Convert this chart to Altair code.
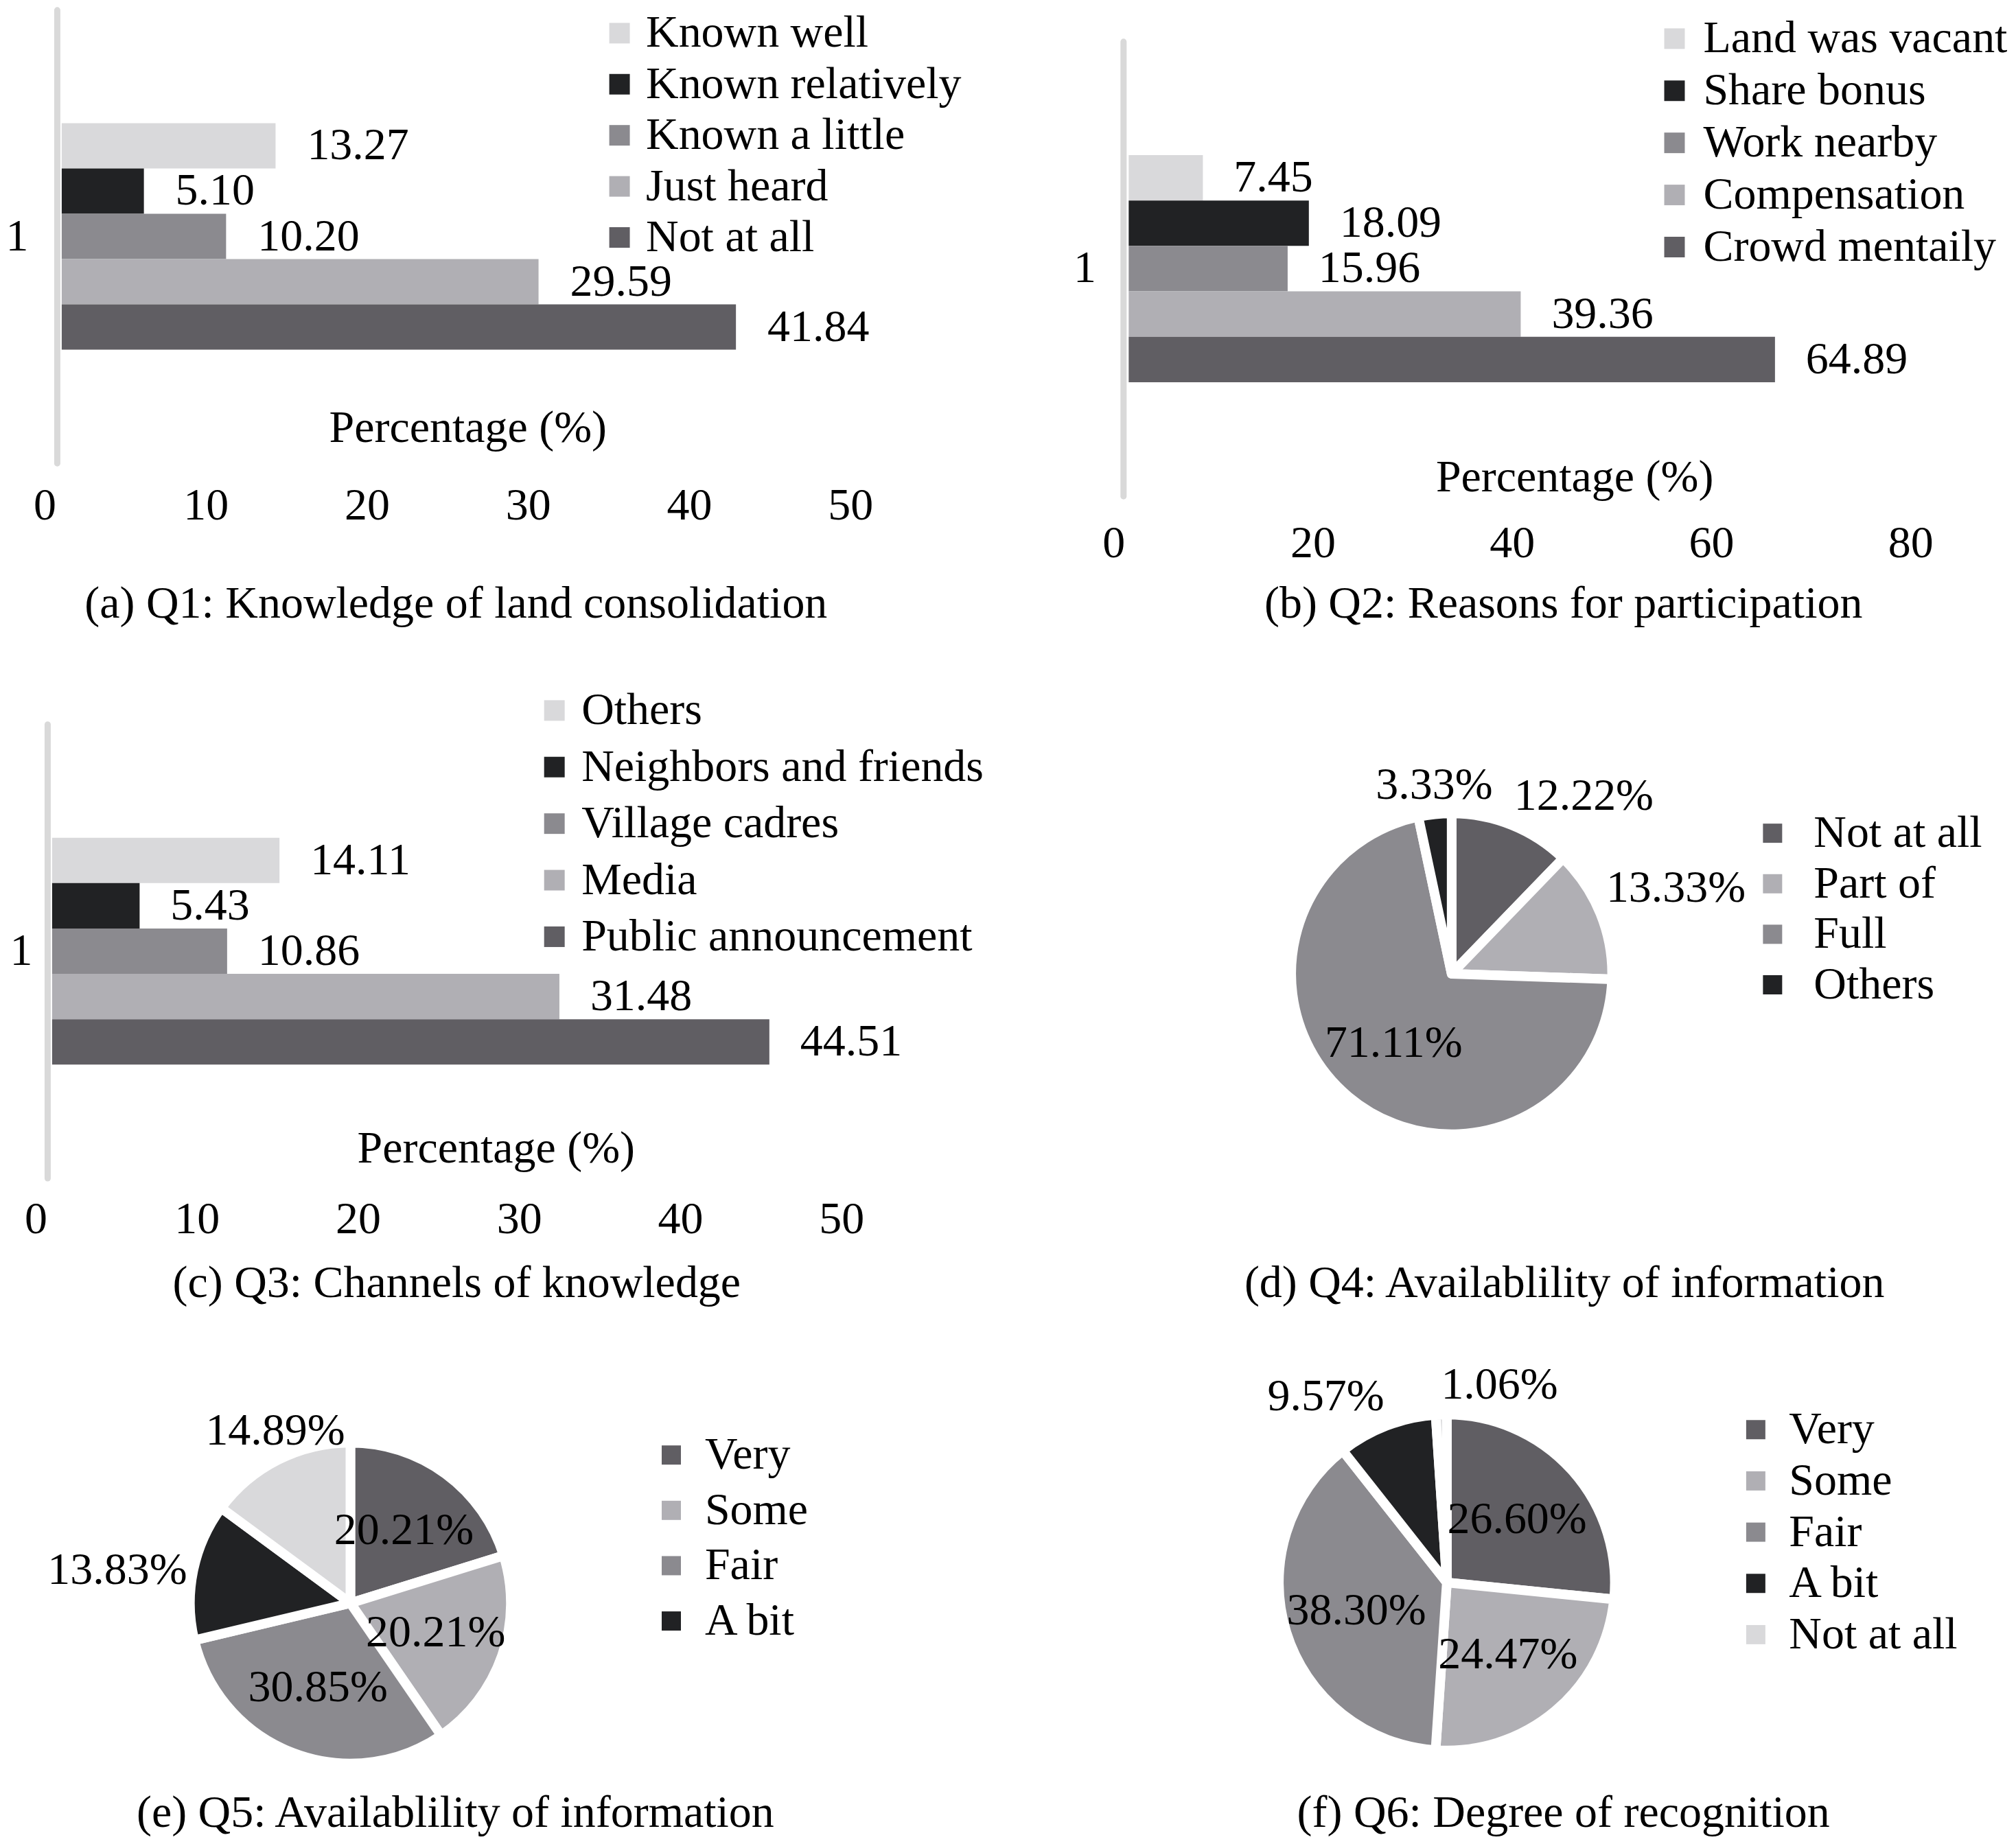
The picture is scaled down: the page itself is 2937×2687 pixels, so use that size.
import altair as alt
import pandas as pd

FONT = "Liberation Serif"
FS = 66

C_LIGHTEST = "#d9d9db"
C_BLACK = "#212224"
C_MID = "#8b8a8f"
C_LIGHT = "#b0afb4"
C_DARK = "#605e63"
AXIS_GRAY = "#d9d9d9"

# ---------------- data ----------------
category = "1"
q1_labels = ["Known well", "Known relatively", "Known a little", "Just heard", "Not at all"]
q1_values = [13.27, 5.10, 10.20, 29.59, 41.84]
q2_labels = ["Land was vacant", "Share bonus", "Work nearby", "Compensation", "Crowd mentaily"]
q2_values = [7.45, 18.09, 15.96, 39.36, 64.89]
q3_labels = ["Others", "Neighbors and friends", "Village cadres", "Media", "Public announcement"]
q3_values = [14.11, 5.43, 10.86, 31.48, 44.51]
bar_colors = [C_LIGHTEST, C_BLACK, C_MID, C_LIGHT, C_DARK]
ticks_50 = [0, 10, 20, 30, 40, 50]
ticks_80 = [0, 20, 40, 60, 80]

q4_labels = ["Not at all", "Part of", "Full", "Others"]
q4_values = [12.22, 13.33, 71.11, 3.33]
q4_colors = [C_DARK, C_LIGHT, C_MID, C_BLACK]
q5_labels = ["Very", "Some", "Fair", "A bit", "Not at all"]
q5_values = [20.21, 20.21, 30.85, 13.83, 14.89]
q5_legend = ["Very", "Some", "Fair", "A bit"]
q6_labels = ["Very", "Some", "Fair", "A bit", "Not at all"]
q6_values = [26.60, 24.47, 38.30, 9.57, 1.06]
five_colors = [C_DARK, C_LIGHT, C_MID, C_BLACK, C_LIGHTEST]

captions = [
    "(a) Q1: Knowledge of land consolidation",
    "(b) Q2: Reasons for participation",
    "(c) Q3: Channels of knowledge",
    "(d) Q4: Availablility of information",
    "(e) Q5: Availablility of information",
    "(f) Q6: Degree of recognition",
]


def caption_title(text, dx, off):
    return alt.TitleParams(text=text, orient="bottom", anchor="middle", frame="group",
                           offset=off, dx=dx, baseline="middle", font=FONT, fontSize=FS,
                           fontWeight="normal", color="black")


def legend(leg_x, leg_y, leg_off, leg_row, size, values=None):
    kw = dict(orient="none", legendX=leg_x, legendY=leg_y, title=None, symbolType="square",
              symbolSize=size, symbolStrokeWidth=0, labelOffset=leg_off, rowPadding=leg_row,
              padding=0, labelLimit=2000)
    if values is not None:
        kw["values"] = values
    return alt.Legend(**kw)


def bar_panel(labels, values, ticks, caption, W, H, xr, yr, axis_x, ylab_pad,
              xlab_pad, xlab_off, title_x, title_y, leg_x, leg_y, leg_off, leg_row,
              dx_lab, cap_dx, cap_off):
    df = pd.DataFrame({"cat": [category] * len(labels), "series": labels, "value": values})
    xsc = alt.Scale(domain=[ticks[0], ticks[-1]], range=xr, nice=False, zero=True)
    ysc = alt.Scale(range=yr, paddingInner=0, paddingOuter=0.5)
    osc = alt.Scale(domain=labels, paddingInner=0, paddingOuter=0)
    base = alt.Chart(df)
    bars = base.mark_bar().encode(
        x=alt.X("value:Q", scale=xsc, axis=alt.Axis(
            values=ticks, title="Percentage (%)", domain=False, ticks=False, tickSize=0,
            grid=False, labelFlush=False, labelOverlap=False, labelPadding=xlab_pad,
            labelOffset=xlab_off, labelBaseline="middle", offset=yr[1] - H,
            titleX=title_x, titleY=title_y, titleBaseline="middle", titleAlign="center",
            titleAngle=0)),
        y=alt.Y("cat:N", scale=ysc, axis=alt.Axis(
            title=None, domainColor=AXIS_GRAY, domainWidth=9, domainCap="round",
            ticks=False, tickSize=0, labelPadding=ylab_pad, offset=-axis_x, grid=False,
            labelAngle=0, labelBaseline="middle")),
        yOffset=alt.YOffset("series:N", scale=osc),
        color=alt.Color("series:N", scale=alt.Scale(domain=labels, range=bar_colors),
                        legend=legend(leg_x, leg_y, leg_off, leg_row, 900)),
    )
    text = base.mark_text(align="left", baseline="middle", dx=dx_lab, fontSize=FS,
                          font=FONT, color="black").encode(
        x=alt.X("value:Q"),
        y=alt.Y("cat:N"),
        yOffset=alt.YOffset("series:N"),
        text=alt.Text("value:Q", format=".2f"),
    )
    return alt.layer(bars, text).properties(width=W, height=H,
                                            title=caption_title(caption, cap_dx, cap_off))


def pie_panel(labels, values, colors, caption, W, H, cx, cy, R, leg_vals, leg_x, leg_y,
              leg_off, leg_row, cap_dx, cap_off):
    df = pd.DataFrame({"idx": list(range(len(labels))), "series": labels, "value": values})
    color = alt.Color("series:N", scale=alt.Scale(domain=labels, range=colors),
                      legend=legend(leg_x, leg_y, leg_off, leg_row, 784, leg_vals))
    arcs = alt.Chart(df).mark_arc(outerRadius=R + 7, stroke="white", strokeWidth=14,
                                  strokeJoin="round").encode(
        theta=alt.Theta("value:Q", stack=True),
        color=color,
        order=alt.Order("idx:Q"),
        x=alt.value(cx), y=alt.value(cy),
    )
    lab = alt.Chart(df).transform_window(
        cum="sum(value)", sort=[alt.SortField("idx", order="ascending")], frame=[None, 0]
    ).transform_joinaggregate(total="sum(value)").transform_calculate(
        mv="datum.cum - datum.value / 2",
        ang="2 * PI * (datum.cum - datum.value / 2) / datum.total",
    ).transform_calculate(
        s="sin(datum.ang)", c="cos(datum.ang)",
    ).transform_calculate(
        r=f"datum.value < 20 ? {R + 16} : {0.58 * R}",
        al="datum.value >= 20 ? 'center' : (datum.value < 2 ? 'left' : (datum.s > 0.3 ? 'left' : ((datum.s < -0.5 || (datum.s < -0.3 && datum.value < 10)) ? 'right' : 'center')))",
        bl="datum.value >= 20 ? 'middle' : (datum.c > 0.3 ? 'bottom' : (datum.c < -0.3 ? 'top' : 'middle'))",
        lab="format(datum.value, '.2f') + '%'",
    ).mark_text(fontSize=FS, font=FONT, color="black",
                align=alt.ExprRef(expr="datum.al"),
                baseline=alt.ExprRef(expr="datum.bl")).encode(
        theta=alt.Theta("mv:Q", stack=None),
        radius=alt.Radius("r:Q", scale=None),
        text=alt.Text("lab:N"),
        x=alt.value(cx), y=alt.value(cy),
    )
    return alt.layer(arcs, lab).properties(width=W, height=H,
                                           title=caption_title(caption, cap_dx, cap_off))


pa = bar_panel(q1_labels, q1_values, ticks_50, captions[0], 1460, 905, [79, 1254], [5, 666],
               72, 42, 62, -25, 671, -51, 859.5, 6, 5.5, 8.5, 46, -76, -33)
pb = bar_panel(q2_labels, q2_values, ticks_80, captions[1], 1461, 905, [175, 1337], [51, 714],
               167, 40, 69, -22, 825, -27, 938, 14, 9, 10, 45, 78.5, -33)
pc = bar_panel(q3_labels, q3_values, ticks_50, captions[2], 1460, 990, [65, 1240], [142, 804],
               58, 22, 60, -24, 712, -43, 764.5, 89, 6.5, 16.5, 45, -75, -32)
pd_ = pie_panel(q4_labels, q4_values, q4_colors, captions[3], 1461, 990, 646, 506, 227,
                q4_labels, 1081, 268, 27, 7.7, 80, -32)
pe = pie_panel(q5_labels, q5_values, five_colors, captions[4], 1460, 776, 500, 434, 227,
               q5_legend, 935, 185, 16, 14.7, -77, -36)
pf = pie_panel(q6_labels, q6_values, five_colors, captions[5], 1461, 776, 639, 404, 238,
               q6_labels, 1056.5, 148, 15.5, 8.75, 78.5, -36)

chart = alt.concat(pa, pb, pc, pd_, pe, pf, columns=2, spacing=0, bounds="flush", align="each").resolve_scale(
    x="independent", y="independent", color="independent", theta="independent",
    radius="independent", yOffset="independent"
).resolve_axis(x="independent", y="independent").resolve_legend(color="independent").properties(
    padding=0, background="white"
).configure(font=FONT).configure_view(strokeWidth=0).configure_axis(
    labelFont=FONT, labelFontSize=FS, labelColor="black", titleFont=FONT, titleFontSize=FS,
    titleFontWeight="normal", titleColor="black", labelLimit=1000, titleLimit=3000
).configure_legend(
    labelFont=FONT, labelFontSize=FS, labelColor="black"
).configure_title(font=FONT, fontSize=FS, fontWeight="normal", color="black")

chart.save("out.html", embed_options={"renderer": "svg", "actions": False})
